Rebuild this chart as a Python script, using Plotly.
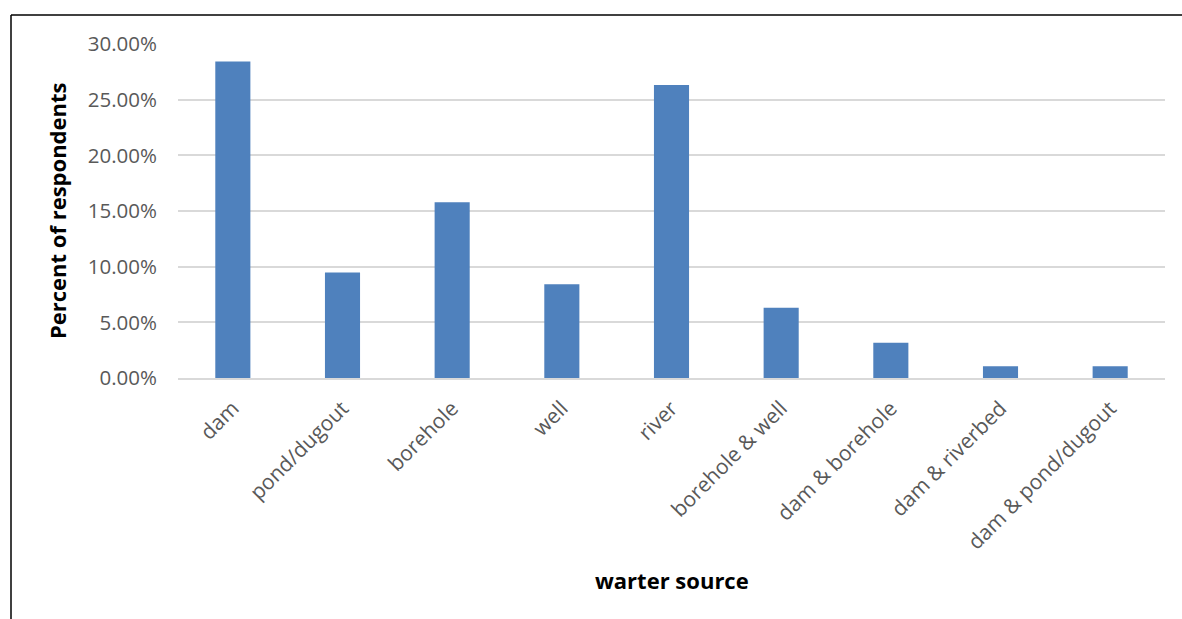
import plotly.graph_objects as go

categories = ["dam", "pond/dugout", "borehole", "well", "river",
              "borehole & well", "dam & borehole", "dam & riverbed", "dam & pond/dugout"]
percent = [0.2842, 0.0947, 0.1579, 0.0842, 0.2632, 0.0632, 0.0316, 0.0105, 0.0105]
y_ticks = [0, 0.05, 0.10, 0.15, 0.20, 0.25, 0.30]

W, H = 1182, 619
L, R, T, B = 178, 17, 44, 241
pw, ph = W - L - R, H - T - B

def px(x):
    return (x - L) / pw

def py(y):
    return (H - B - y) / ph

fig = go.Figure(go.Bar(
    x=categories, y=percent,
    marker=dict(color="#4F81BD", line=dict(width=0)),
))

fig.update_layout(
    width=W, height=H,
    margin=dict(l=L, r=R, t=T, b=B, pad=0),
    paper_bgcolor="white", plot_bgcolor="white",
    bargap=0.68, showlegend=False,
    font=dict(family="Open Sans", color="#595959"),
    xaxis=dict(
        type="category", tickangle=-45, showgrid=False,
        showline=True, linecolor="#D9D9D9", linewidth=1.5,
        tickfont=dict(size=21, color="#595959", family="Open Sans"),
        ticks="", ticklabelstandoff=8,
    ),
    yaxis=dict(
        range=[0, 0.30], tickvals=y_ticks, tickformat=".2%",
        showgrid=True, gridcolor="#D9D9D9", gridwidth=1.5,
        zeroline=False, showline=False,
        tickfont=dict(size=20.5, color="#595959", family="Open Sans"),
        ticks="", ticklabelstandoff=20,
    ),
    annotations=[
        dict(text="<b>Percent of respondents</b>", xref="paper", yref="paper",
             x=px(57), y=py(211), textangle=-90, showarrow=False,
             font=dict(size=22, color="black", family="Open Sans"),
             xanchor="center", yanchor="middle"),
        dict(text="<b>warter source</b>", xref="paper", yref="paper",
             x=px(672), y=py(580), showarrow=False,
             font=dict(size=22, color="black", family="Open Sans"),
             xanchor="center", yanchor="middle"),
    ],
    shapes=[
        dict(type="line", xref="paper", yref="paper",
             x0=px(11), x1=px(W + 5), y0=py(15), y1=py(15),
             line=dict(color="black", width=1.5)),
        dict(type="line", xref="paper", yref="paper",
             x0=px(11), x1=px(11), y0=py(15), y1=py(H + 5),
             line=dict(color="black", width=1.5)),
    ],
)

fig.write_html("out.html")
